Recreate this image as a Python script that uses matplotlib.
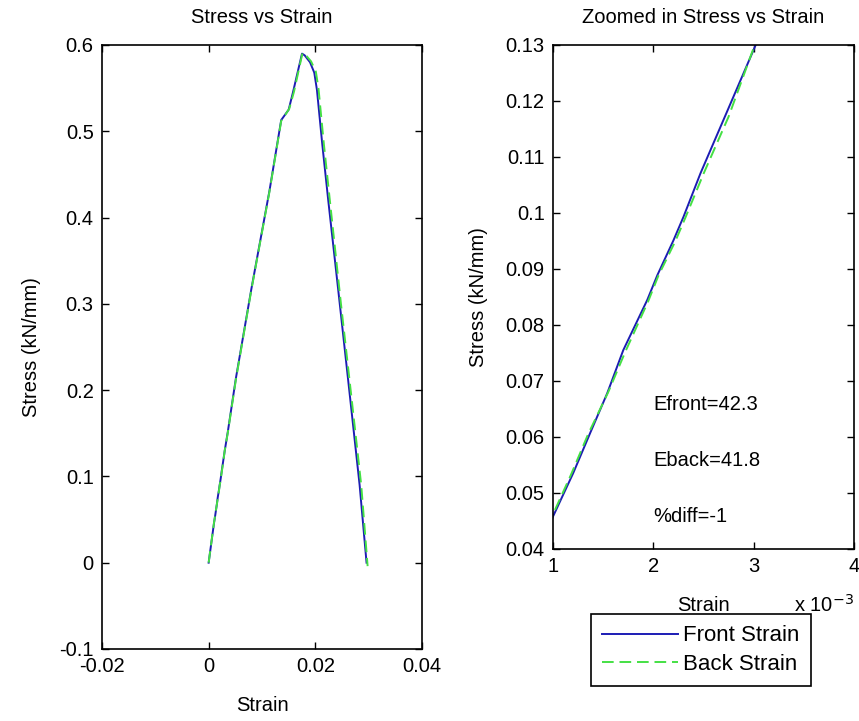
import numpy as np
import matplotlib
matplotlib.use('Agg')
import matplotlib.pyplot as plt
from matplotlib.ticker import FuncFormatter

# datos (strain adimensional, stress en kN/mm)
front_strain = [0, 0.0010, 0.0012, 0.00137, 0.00154, 0.0017, 0.00194, 0.00204, 0.0022, 0.0023,
                0.00247, 0.00272, 0.00302, 0.0036, 0.0051, 0.0080, 0.0114, 0.0136, 0.0150, 0.0158,
                0.0175, 0.0180, 0.0190, 0.0198, 0.0203, 0.0213, 0.0224, 0.0244, 0.0265, 0.0283, 0.0296]
front_stress = [0, 0.0458, 0.0535, 0.0607, 0.0678, 0.0755, 0.0845, 0.0889, 0.0951, 0.0993,
                0.1071, 0.1175, 0.1300, 0.152, 0.2135, 0.317, 0.431, 0.513, 0.525, 0.545,
                0.590, 0.588, 0.580, 0.568, 0.548, 0.485, 0.421, 0.31, 0.192, 0.09, 0.0]

back_strain = [0, 0.0010, 0.00118, 0.00135, 0.00155, 0.00172, 0.00195, 0.00205, 0.00222, 0.00232,
               0.0025, 0.00275, 0.00300, 0.0036, 0.0051, 0.0080, 0.0114, 0.0136, 0.0151, 0.0160,
               0.0176, 0.0181, 0.0192, 0.0201, 0.0206, 0.0216, 0.0227, 0.0248, 0.0268, 0.0286, 0.0298]
back_stress = [0, 0.0462, 0.0533, 0.0605, 0.0680, 0.0752, 0.0843, 0.0888, 0.0950, 0.0992,
               0.1070, 0.1172, 0.1295, 0.151, 0.212, 0.316, 0.430, 0.512, 0.526, 0.546,
               0.591, 0.589, 0.581, 0.569, 0.549, 0.485, 0.421, 0.30, 0.19, 0.09, -0.004]

E_front = 42.3
E_back = 41.8
pct_diff = -1

plt.rcParams['font.family'] = ['Liberation Sans', 'DejaVu Sans']
fs = 14.5

azul = '#1c1cb4'
verde = '#44e044'

fig = plt.figure(figsize=(8.59, 7.21), dpi=100)
ax1 = fig.add_axes([0.1187, 0.0999, 0.3726, 0.8377])
ax2 = fig.add_axes([0.6438, 0.2386, 0.3504, 0.699])

for ax in (ax1, ax2):
    ax.plot(front_strain, front_stress, color=azul, lw=1.4, label='Front Strain')
    ax.plot(back_strain, back_stress, color=verde, lw=1.4, ls=(0, (6, 3)), label='Back Strain')
    ax.tick_params(direction='in', top=True, right=True, length=5, width=1, labelsize=fs, pad=6)
    for s in ax.spines.values():
        s.set_linewidth(1.2)
    ax.set_xlabel('Strain', fontsize=fs, labelpad=14)
    ax.set_ylabel('Stress (kN/mm)', fontsize=fs, labelpad=13)

ax1.set_xlim(-0.02, 0.04)
ax1.set_ylim(-0.1, 0.6)
ax1.set_xticks([-0.02, 0, 0.02, 0.04])
ax1.set_xticklabels(['-0.02', '0', '0.02', '0.04'])
ax1.set_yticks(np.arange(-0.1, 0.61, 0.1))
ax1.set_yticklabels(['-0.1', '0', '0.1', '0.2', '0.3', '0.4', '0.5', '0.6'])
ax1.set_title('Stress vs Strain', fontsize=fs, pad=16)

ax2.set_xlim(0.001, 0.004)
ax2.set_ylim(0.04, 0.13)
ax2.set_xticks([0.001, 0.002, 0.003, 0.004])
ax2.xaxis.set_major_formatter(FuncFormatter(lambda v, p: '%g' % round(v * 1e3, 3)))
ax2.set_yticks(np.arange(0.04, 0.1301, 0.01))
ax2.yaxis.set_major_formatter(FuncFormatter(lambda v, p: '%g' % round(v, 3)))
ax2.set_title('Zoomed in Stress vs Strain', fontsize=fs, pad=16)
ax2.text(0.80, -0.11, 'x 10$^{-3}$', transform=ax2.transAxes, fontsize=fs, va='center')

ax2.text(0.002, 0.0658, 'Efront=%.1f' % E_front, fontsize=fs, va='center')
ax2.text(0.002, 0.0558, 'Eback=%.1f' % E_back, fontsize=fs, va='center')
ax2.text(0.002, 0.0458, '%%diff=%d' % pct_diff, fontsize=fs, va='center')

leg = fig.legend(handles=ax2.get_lines(), loc='upper left', bbox_to_anchor=(0.688, 0.148),
                 borderaxespad=0, fancybox=False, framealpha=1, edgecolor='black',
                 fontsize=16, handlelength=3.4, borderpad=0.5, labelspacing=0.35,
                 handletextpad=0.25)
leg.get_frame().set_linewidth(1.2)

plt.savefig('out.png', dpi=100)
